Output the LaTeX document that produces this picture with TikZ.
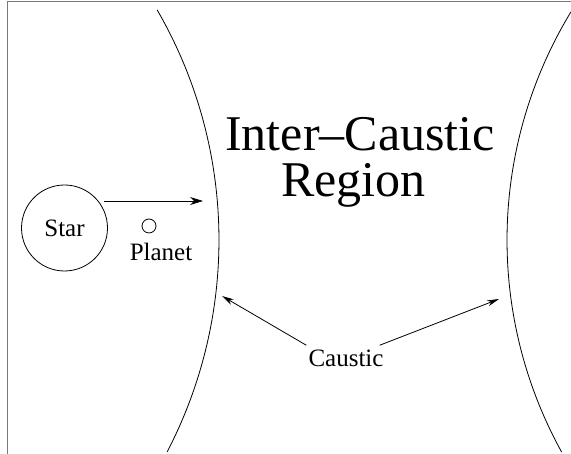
\documentclass[tikz,border=0pt]{standalone}
\usepackage{fontspec}
\setmainfont{Liberation Serif}
\usetikzlibrary{arrows.meta, positioning, calc}
\definecolor{framegray}{RGB}{120,120,120}

\begin{document}
\begin{tikzpicture}[
    x=1pt, y=1pt,
    smalltext/.style={font=\fontsize{25}{28}\selectfont, inner sep=0pt, anchor=base},
    bigtext/.style={font=\fontsize{50}{56}\selectfont, inner sep=0pt, anchor=base},
    caustic/.style={line width=0.8pt},
    pointer/.style={-{Stealth[length=12pt,width=6pt]}, line width=0.8pt},
    body/.style={draw, circle, line width=0.8pt, inner sep=0pt}
  ]
    \useasboundingbox (0,0) rectangle (571,454);

    % Frame edges (only top and left show)
    \draw[framegray, line width=1.5pt] (7.5,0) -- (7.5,452.5) -- (571,452.5);

    % Caustic curves
    \draw[caustic] (-240,214) ++(30.1:459)
      arc[start angle=30.1, end angle=-27.5, radius=459];
    \draw[caustic] (946,214) ++(148.7:439)
      arc[start angle=148.7, end angle=208.9, radius=439];

    % Points on the caustics
    \coordinate (lefthit) at (222,158);
    \coordinate (righthit) at (499,155);
    \coordinate (beamstart) at (104,253);
    \coordinate (beamhit) at (203,253);

    % Star and planet
    \node[body, minimum size=86pt, font=\fontsize{25}{28}\selectfont] (star) at (64.5,226) {Star};
    \node[body, minimum size=14pt] (planet) at (149,228) {};
    \node[smalltext] (planetname) at (161,193) {Planet};

    % Title
    \node[bigtext] (titletop) at (360,303) {Inter--Caustic};
    \node[bigtext] (titlebottom) at (353.5,257) {Region};

    % Caustic label
    \node[smalltext] (causticname) at (346,87) {Caustic};

    % Arrows
    \draw[-{Stealth[length=13pt,width=8pt]}, line width=0.8pt] (beamstart) -- (beamhit);
    \draw[pointer] ([shift={(-2,5)}]causticname.north west) -- (lefthit);
    \draw[pointer] ([shift={(-4,5)}]causticname.north east) -- (righthit);
  \end{tikzpicture}
\end{document}
